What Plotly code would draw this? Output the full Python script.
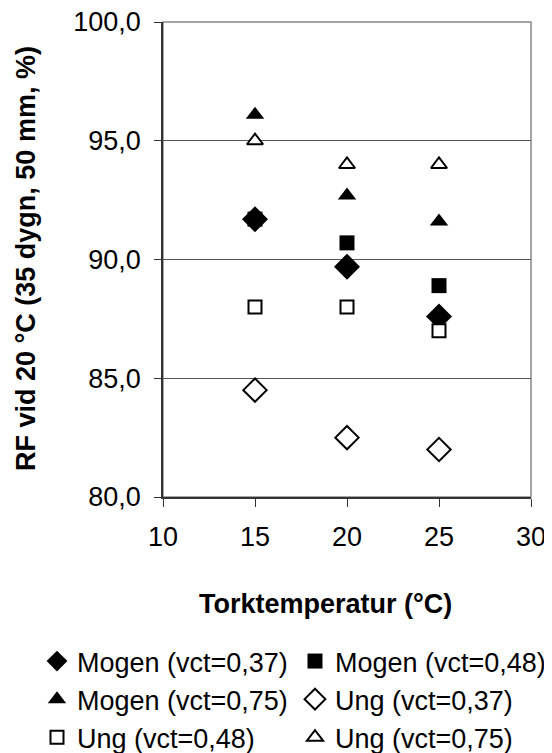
import plotly.graph_objects as go

# Data
torktemperatur = [15, 20, 25]
mogen_037 = [91.7, 89.7, 87.6]
mogen_048 = [91.7, 90.7, 88.9]
mogen_075 = [96.1, 92.7, 91.6]
ung_037 = [84.5, 82.5, 82.0]
ung_048 = [88.0, 88.0, 87.0]
ung_075 = [95.0, 94.0, 94.0]

series_names = ["Mogen (vct=0,37)", "Mogen (vct=0,48)", "Mogen (vct=0,75)",
                "Ung (vct=0,37)", "Ung (vct=0,48)", "Ung (vct=0,75)"]
series_values = [mogen_037, mogen_048, mogen_075, ung_037, ung_048, ung_075]
x_ticks = [10, 15, 20, 25, 30]
y_ticks = [80, 85, 90, 95, 100]

styles = [
    dict(symbol="diamond", size=20, color="black", line=dict(color="black", width=0)),
    dict(symbol="square", size=15, color="black", line=dict(color="black", width=0)),
    dict(symbol="triangle-up", size=16, color="black", line=dict(color="black", width=0)),
    dict(symbol="diamond", size=18, color="white", line=dict(color="black", width=2)),
    dict(symbol="square", size=13, color="white", line=dict(color="black", width=2)),
    dict(symbol="triangle-up", size=14, color="white", line=dict(color="black", width=2)),
]

FONT = "Liberation Sans, Arial, sans-serif"

fig = go.Figure()
for name, vals, st in zip(series_names, series_values, styles):
    fig.add_trace(go.Scatter(x=torktemperatur, y=vals, mode="markers", name=name,
                             marker=st, cliponaxis=False))

OFF = 8  # page body margin
W, H = 552 - OFF, 753 - OFF
L, R, T, B = 155, 21, 14, 256
pw = W - L - R
ph = H - T - B

def px_to_paper_x(sx):
    return (sx - OFF - L) / pw

def px_to_paper_y(sy):
    return (H - B - (sy - OFF)) / ph

fig.update_layout(
    width=W, height=H,
    margin=dict(l=L, r=R, t=T, b=B, autoexpand=False),
    paper_bgcolor="white", plot_bgcolor="white",
    separators=", ",
    font=dict(family=FONT, size=27, color="black"),
    showlegend=True,
    legend=dict(orientation="h", x=px_to_paper_x(37), xanchor="left",
                y=px_to_paper_y(637), yanchor="top",
                entrywidth=213, entrywidthmode="pixels",
                font=dict(family=FONT, size=27, color="black"),
                bgcolor="rgba(0,0,0,0)", itemclick=False, traceorder="normal"),
    xaxis=dict(range=[10, 30], tickvals=x_ticks, ticks="outside", ticklen=8,
               ticklabelstandoff=7, ticklabeloverflow="allow",
               tickcolor="#333", showline=True, linecolor="#333", linewidth=1.5,
               showgrid=False, zeroline=False,
               tickfont=dict(family=FONT, size=27, color="black")),
    yaxis=dict(range=[80, 100], tickvals=y_ticks, tickformat=".1f", ticks="outside",
               ticklen=7, ticklabelstandoff=8, ticklabeloverflow="allow",
               tickcolor="#333", showline=True, linecolor="#333", linewidth=1.5,
               showgrid=True, gridcolor="#555", gridwidth=1, zeroline=False,
               tickfont=dict(family=FONT, size=27, color="black")),
    shapes=[dict(type="rect", xref="paper", yref="paper", x0=0, x1=1, y0=0, y1=1,
                 line=dict(color="#888", width=1.5), layer="below")],
    annotations=[
        dict(text="<b>Torktemperatur (°C)</b>", xref="paper", yref="paper",
             x=px_to_paper_x(325), y=px_to_paper_y(604), xanchor="center", yanchor="middle",
             showarrow=False, font=dict(family=FONT, size=27, color="black")),
        dict(text="<b>RF vid 20 °C (35 dygn, 50 mm, %)</b>", xref="paper", yref="paper",
             x=px_to_paper_x(26), y=px_to_paper_y(259), xanchor="center", yanchor="middle",
             textangle=-90, showarrow=False, font=dict(family=FONT, size=27, color="black")),
    ],
)

fig.write_html("out.html")
